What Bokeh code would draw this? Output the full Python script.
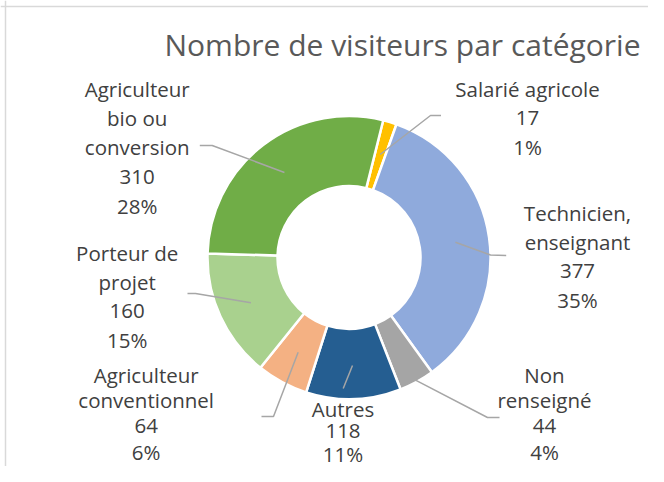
import numpy as np
from bokeh.plotting import figure
from bokeh.models import Range1d, Span
from bokeh.core.properties import value
from bokeh.embed import file_html
from bokeh.resources import INLINE

# ---------------- data ----------------
title_text = "Nombre de visiteurs par catégorie"
categories = ["Salarié agricole", "Technicien, enseignant", "Non renseigné", "Autres",
              "Agriculteur conventionnel", "Porteur de projet", "Agriculteur bio ou conversion"]
counts = [17, 377, 44, 118, 64, 160, 310]
percent_labels = ["1%", "35%", "4%", "11%", "6%", "15%", "28%"]
colors = ["#FFC000", "#8FAADC", "#A5A5A5", "#255E91", "#F4B183", "#A9D18E", "#70AD47"]

# ---------------- layout (reference pixel coordinates) ----------------
W, H = 648, 466
FONT = "Open Sans"
label_wrap = [["Salarié agricole"], ["Technicien,", "enseignant"], ["Non", "renseigné"], ["Autres"],
              ["Agriculteur", "conventionnel"], ["Porteur de", "projet"], ["Agriculteur", "bio ou", "conversion"]]
label_pos = [(527, 88), (577, 212), (544, 374), (342.5, 408), (145.7, 374), (126.7, 252), (136.7, 88.3)]
label_step = [29.3, 29.3, 25.8, 22.5, 25.8, 29.3, 29.3]
leader_r = [107.6, 107.5, 140, 108, 107.6, 108, 106.8]
leader_pts = [[(430, 115), (440.5, 115)],
              [(490, 254.5), (505.7, 255)],
              [(487, 417), (499, 417)],
              [(342.7, 388)],
              [(273, 416), (261, 416)],
              [(195, 293), (187, 293)],
              [(211.7, 145), (199.3, 145)]]
center = (348.5, 257)
r_out, r_in = 141.5, 71.5
first_angle = 14.0


def X(x):
    return x


def Y(y):
    return H - y


p = figure(width=W, height=H, output_backend="svg", toolbar_location=None,
           x_range=Range1d(0, W), y_range=Range1d(0, H), min_border=0,
           outline_line_color=None, background_fill_color="white", border_fill_color="white")
p.axis.visible = False
p.grid.visible = False

# frame (left and top edges visible in the reference)
p.add_layout(Span(location=X(5), dimension="height", line_color="#D9D9D9", line_width=1.5))
p.add_layout(Span(location=Y(6), dimension="width", line_color="#D9D9D9", line_width=1.5))

vals = np.array(counts, dtype=float)
total = vals.sum()
cum = np.concatenate([[0], np.cumsum(vals)])
a_start = first_angle + cum[:-1] / total * 360.0
a_end = first_angle + cum[1:] / total * 360.0
cx, cy = X(center[0]), Y(center[1])

p.annular_wedge(x=cx, y=cy, inner_radius=r_in, outer_radius=r_out,
                start_angle=np.radians(90 - a_start), end_angle=np.radians(90 - a_end),
                direction="clock", fill_color=colors, line_color="white", line_width=2.5)

# leader lines
xs, ys = [], []
a_mid = (a_start + a_end) / 2
for i in range(len(counts)):
    ang = np.radians(a_mid[i])
    sx = cx + leader_r[i] * np.sin(ang)
    sy = cy + leader_r[i] * np.cos(ang)
    xs.append([sx] + [X(q[0]) for q in leader_pts[i]])
    ys.append([sy] + [Y(q[1]) for q in leader_pts[i]])
p.multi_line(xs=xs, ys=ys, line_color="#A6A6A6", line_width=1.5)

# labels
tx, ty, tt = [], [], []
for i in range(len(counts)):
    lines = label_wrap[i] + [str(counts[i]), percent_labels[i]]
    x0, y0 = label_pos[i]
    for k, s in enumerate(lines):
        tx.append(X(x0))
        ty.append(Y(y0 + k * label_step[i]))
        tt.append(s)
p.text(x=tx, y=ty, text=tt, text_align="center", text_baseline="middle",
       text_font=value(FONT), text_font_size="20.5px", text_color="#404040")

# title
p.text(x=[X(402)], y=[Y(44)], text=[title_text], text_align="center", text_baseline="middle",
       text_font=value(FONT), text_font_size="30px", text_color="#595959")

open("out.html", "w").write(file_html(p, INLINE))
